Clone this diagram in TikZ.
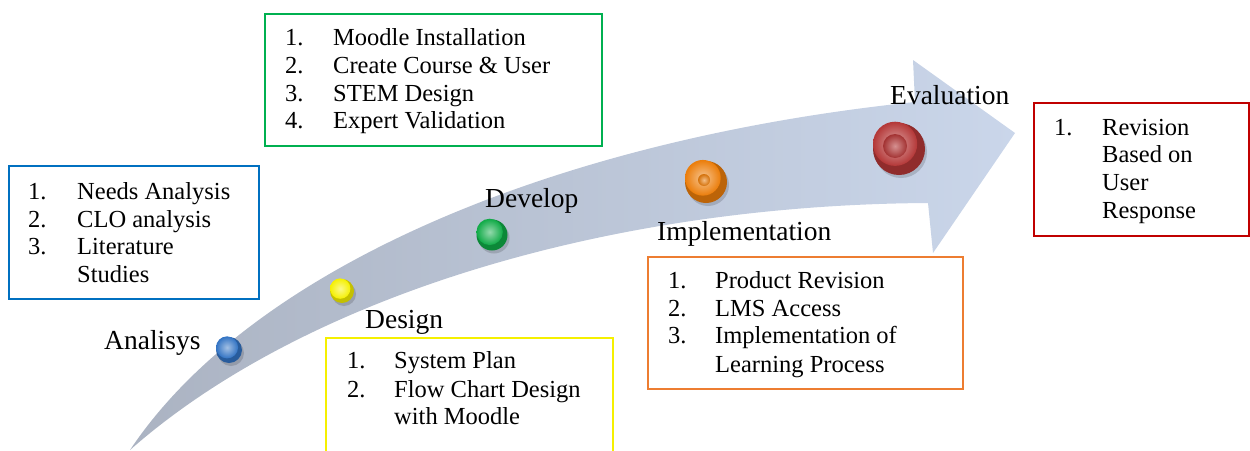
\documentclass[tikz,border=0pt]{standalone}
\usepackage{fontspec}
\setmainfont{Liberation Serif}
\usetikzlibrary{shadings}
\definecolor{cblue}{HTML}{0070C0}
\definecolor{cgreen}{HTML}{00B050}
\definecolor{cyellow}{HTML}{F5F000}
\definecolor{corange}{HTML}{ED7D31}
\definecolor{cred}{HTML}{C00000}
\definecolor{arrowL}{HTML}{ABB3C2}
\definecolor{arrowR}{HTML}{CAD6EA}
\definecolor{bblue}{RGB}{50,115,195}
\definecolor{byellow}{RGB}{245,240,0}
\definecolor{bgreen}{RGB}{15,170,70}
\definecolor{borange}{RGB}{235,125,10}
\definecolor{bred}{RGB}{180,55,55}
\begin{document}
\begin{tikzpicture}[x=1pt,y=-1pt,
  listbox/.style={draw, line width=2pt, fill=white},
  itemtxt/.style={anchor=base west, inner sep=0pt, font=\fontsize{24.5}{28}\selectfont},
  stagelbl/.style={anchor=base west, inner sep=0pt, font=\fontsize{27.5}{32}\selectfont},
  ballshadow/.style={fill=black, opacity=0.15},
]
\useasboundingbox (0,0) rectangle (1250,450);
% curved arrow
\shade[left color=arrowL, right color=arrowR]
  (130,450) .. controls (250,270) and (550,140) .. (915,102)
  -- (913,60) -- (1015,133) -- (933,253) -- (928,203)
  .. controls (600,205) and (300,300) .. (130,450)
  -- cycle;
% balls
\foreach \cx/\cy/\r/\c in {229/350/13/bblue, 342/291/12/byellow, 492/235/15.5/bgreen, 706/182/21/borange, 899/149/26/bred}{
  \fill[ballshadow] (\cx+2,\cy+3) circle (\r);
  \fill[\c!80!black] (\cx,\cy) circle (\r);
  \shade[inner color=\c!45!white, outer color=\c] (\cx-0.15*\r,\cy-0.2*\r) circle (0.85*\r);
}
\shade[inner color=bred!55!white, outer color=bred!90!black] (895,146) circle (12);
\shade[inner color=borange!50!white, outer color=borange!90!black] (704,180) circle (6);
% boxes
\node[listbox, draw=cblue, anchor=north west, minimum width=250pt, minimum height=133pt] (boxA) at (8,165) {};
\node[listbox, draw=cgreen, anchor=north west, minimum width=337pt, minimum height=132pt] (boxD) at (264,13) {};
\node[listbox, draw=cyellow, anchor=north west, minimum width=287pt, minimum height=130pt] (boxB) at (325,337) {};
\node[listbox, draw=corange, anchor=north west, minimum width=315pt, minimum height=132pt] (boxI) at (647,256) {};
\node[listbox, draw=cred, anchor=north west, minimum width=215pt, minimum height=133pt] (boxE) at (1033,102) {};
% stage labels
\node[stagelbl] (lA) at (104,349) {Analisys};
\node[stagelbl] (lB) at (365,328) {Design};
\node[stagelbl] (lD) at (485,207) {Develop};
\node[stagelbl] (lI) at (657,240) {Implementation};
\node[stagelbl] (lE) at (890,104) {Evaluation};
% Analysis items
\node[itemtxt] (a1n) at (28,199) {1.};  \node[itemtxt] (a1) at (77,199) {Needs Analysis};
\node[itemtxt] (a2n) at (28,227) {2.};  \node[itemtxt] (a2) at (77,227) {CLO analysis};
\node[itemtxt] (a3n) at (28,254) {3.};  \node[itemtxt] (a3) at (77,254) {Literature};
\node[itemtxt] (a4) at (77,282) {Studies};
% Develop items
\node[itemtxt] (d1n) at (285,45) {1.};  \node[itemtxt] (d1) at (333,45) {Moodle Installation};
\node[itemtxt] (d2n) at (285,73) {2.};  \node[itemtxt] (d2) at (333,73) {Create Course \& User};
\node[itemtxt] (d3n) at (285,101) {3.}; \node[itemtxt] (d3) at (333,101) {STEM Design};
\node[itemtxt] (d4n) at (285,128) {4.}; \node[itemtxt] (d4) at (333,128) {Expert Validation};
% Design items
\node[itemtxt] (b1n) at (347,368) {1.}; \node[itemtxt] (b1) at (394,368) {System Plan};
\node[itemtxt] (b2n) at (347,397) {2.}; \node[itemtxt] (b2) at (394,397) {Flow Chart Design};
\node[itemtxt] (b3) at (394,424) {with Moodle};
% Implementation items
\node[itemtxt] (i1n) at (668,288) {1.}; \node[itemtxt] (i1) at (715,288) {Product Revision};
\node[itemtxt] (i2n) at (668,316) {2.}; \node[itemtxt] (i2) at (715,316) {LMS Access};
\node[itemtxt] (i3n) at (668,343) {3.}; \node[itemtxt] (i3) at (715,343) {Implementation of};
\node[itemtxt] (i4) at (715,372) {Learning Process};
% Evaluation items
\node[itemtxt] (e1n) at (1054,135) {1.}; \node[itemtxt] (e1) at (1102,135) {Revision};
\node[itemtxt] (e2) at (1102,162) {Based on};
\node[itemtxt] (e3) at (1102,190) {User};
\node[itemtxt] (e4) at (1102,218) {Response};
\end{tikzpicture}
\end{document}
